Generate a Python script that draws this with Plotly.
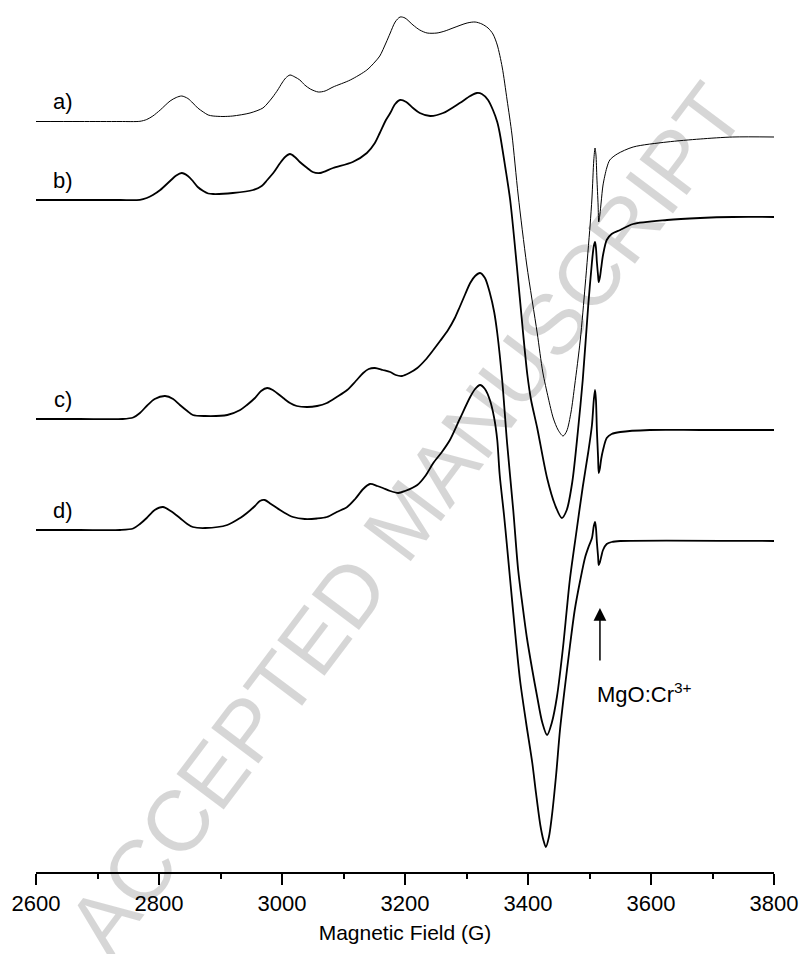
import plotly.graph_objects as go

# Magnetic field (G) and EPR signal (arbitrary units)
field_a = [2600, 2671.5, 2736.6, 2769, 2780, 2790, 2802, 2818, 2828, 2837, 2847, 2855, 2863, 2872, 2880, 2888,
           2904, 2920, 2948, 2969, 2977, 2985, 2993, 3000, 3006, 3013, 3021, 3029, 3037, 3046, 3059, 3070,
           3083, 3111, 3138, 3151, 3159, 3169, 3176, 3184, 3192, 3200, 3213, 3224, 3236, 3252, 3265, 3278,
           3301, 3314, 3325, 3335, 3343, 3350, 3358, 3366, 3374, 3384, 3398, 3415, 3424, 3433, 3441, 3449,
           3457, 3463, 3470, 3476, 3485, 3493, 3501, 3504, 3507, 3509, 3510.5, 3512, 3514, 3515, 3517, 3519,
           3522, 3528, 3533, 3545, 3571, 3626, 3680, 3733, 3800]
sig_a = [0, 0, 0, 0.2, 2, 5.5, 11.5, 20.5, 24, 25.5, 23, 18.5, 13.5, 9.5, 6.5, 5.5,
         5, 5.5, 8.5, 13.5, 18.5, 24.5, 31.5, 38.5, 43.5, 46.5, 44.5, 41.5, 36.5, 32.5, 29.5, 30.5,
         34.5, 41.5, 51.5, 59.5, 65.5, 78.5, 88.5, 99.5, 104.5, 103.5, 96.5, 91.5, 88.5, 88.5, 90.5, 93.5,
         98.5, 99.5, 97.5, 93.5, 87.5, 76.5, 54.5, 21.5, -13.5, -73.5, -143.5, -211.5, -250.5, -276.5, -296.5, -308.5,
         -314.5, -309.5, -290.5, -263.5, -218.5, -163.5, -103.5, -76.5, -38.5, -26.5, -33.5, -56.5, -83.5, -100.5, -92.5, -80.5,
         -63.5, -46.5, -38.5, -32.5, -25.5, -20.5, -17.5, -15.5, -15.5]

field_b = [2600, 2671.5, 2736.6, 2769, 2780, 2790, 2802, 2818, 2828, 2837, 2847, 2855, 2863, 2872, 2880, 2888,
           2920, 2953, 2967, 2976, 2987, 2997, 3005, 3013, 3021, 3029, 3041, 3050, 3062, 3083, 3115, 3138,
           3151, 3159, 3169, 3176, 3184, 3192, 3202, 3213, 3224, 3241, 3262, 3289, 3306, 3317, 3325, 3335,
           3343, 3350, 3354, 3363, 3371, 3382, 3392, 3399, 3405, 3415, 3431, 3444, 3455, 3463, 3472, 3481,
           3489, 3498, 3504, 3507, 3509, 3510.5, 3512, 3514, 3515, 3517, 3519, 3522, 3528, 3536, 3550, 3571,
           3626, 3680, 3733, 3800]
sig_b = [0, 0, 0, 0.2, 2, 5, 10, 19, 24.5, 27, 24, 19, 13, 9, 6.5, 6,
         7, 10, 14, 20, 28, 37, 43, 46, 43, 38, 32, 28, 27, 32, 38, 47,
         57, 67, 80, 87, 96, 100, 98, 92, 87, 84, 87, 97, 104, 107, 106, 100,
         90, 78, 67, 33, 0, -67, -133, -175, -200, -228, -278, -305, -318, -310, -282, -232,
         -180, -105, -62, -46, -42, -48, -62, -76, -82, -77, -68, -55, -40, -34, -30, -24,
         -20, -18, -17, -17]

field_c = [2600, 2671.5, 2741, 2758, 2769, 2780, 2793, 2810, 2823, 2834, 2846, 2855, 2875, 2911, 2932, 2943,
           2956, 2966, 2976, 2985, 3002, 3013, 3024, 3041, 3057, 3073, 3089, 3106, 3120, 3132, 3141, 3151,
           3164, 3176, 3185, 3195, 3207, 3220, 3233, 3246, 3257, 3270, 3281, 3289, 3298, 3306, 3314, 3322,
           3330, 3338, 3345, 3350, 3358, 3366, 3376, 3384, 3391, 3398, 3407, 3415, 3423, 3431, 3439, 3447,
           3457, 3463, 3468, 3478, 3489, 3498, 3504, 3507, 3509, 3510.5, 3512, 3514, 3515, 3517, 3519, 3522,
           3528, 3536, 3550, 3598, 3680, 3800]
sig_c = [0, 0, 0, 1.5, 6, 13, 20, 23, 20, 14, 8, 4, 3, 4, 9, 14,
         21, 28, 31, 29, 21, 16, 13, 12, 13, 16, 22, 29, 38, 46, 50, 51,
         49, 47, 44, 43, 46, 51, 59, 69, 78, 89, 101, 112, 125, 136, 143, 146,
         141, 126, 107, 86, 39, -24, -91, -151, -186, -218, -251, -278, -303, -316, -303, -278,
         -228, -191, -161, -116, -68, -33, -6, 19, 29, 19, -11, -39, -54, -49, -40, -31,
         -19, -15, -13, -11, -11, -11]

field_d = [2600, 2671.5, 2736.6, 2758, 2769, 2780, 2793, 2806.5, 2819, 2834, 2846, 2855, 2875, 2911, 2932, 2943,
           2956, 2964, 2972, 2982, 3002, 3018, 3037, 3057, 3073, 3089, 3106, 3119, 3132, 3143, 3155, 3164,
           3176, 3189, 3200, 3220, 3233, 3246, 3260, 3273, 3289, 3306, 3314, 3322, 3330, 3338, 3345, 3350,
           3354, 3361, 3366, 3371, 3379, 3387, 3397, 3407, 3413, 3420, 3425, 3429, 3434, 3439, 3446, 3452,
           3460, 3468, 3476, 3485, 3493, 3499, 3504, 3507, 3509, 3510.5, 3512, 3514, 3515, 3517, 3519, 3522,
           3528, 3536, 3550, 3800]
sig_d = [0, 0, 0, 1.5, 6, 12, 20, 23, 19, 12, 6, 3, 2, 5, 12, 17,
         24, 29, 30, 26, 18, 13, 11, 11.5, 13, 18, 23, 31, 41, 46, 44, 42,
         39, 37, 39, 45, 54, 67, 78, 90, 111, 133, 141, 145, 141, 130, 112, 90,
         55, 15, -17, -50, -102, -150, -193, -233, -263, -295, -310, -317, -307, -285, -243, -200,
         -157, -117, -80, -50, -27, -16, -8, 4, 8, 2, -12, -27, -35, -32, -27, -20,
         -14, -12, -11, -11]

series_labels = ["a)", "b)", "c)", "d)"]
offsets = [-121.5, -200, -419, -530]
line_widths = [1.0, 1.8, 1.8, 1.8]

x_ticks = [2600, 2800, 3000, 3200, 3400, 3600, 3800]

fig = go.Figure()
fields = [field_a, field_b, field_c, field_d]
sigs = [sig_a, sig_b, sig_c, sig_d]
for f, s, off, lw, name in zip(fields, sigs, offsets, line_widths, series_labels):
    fig.add_trace(go.Scatter(
        x=f, y=[v + off for v in s], mode="lines", name=name,
        line=dict(color="black", width=lw, shape="spline", smoothing=0.8),
        showlegend=False, hoverinfo="skip"))

FONT = "Liberation Sans, Arial, sans-serif"

for name, off in zip(series_labels, offsets):
    fig.add_annotation(x=2644, y=off + 20, text=name, showarrow=False,
                       font=dict(family=FONT, size=22, color="black"),
                       xanchor="center", yanchor="middle")

# Arrow marking the MgO:Cr3+ reference line
fig.add_annotation(x=3517, y=-608, ax=3517, ay=-662, xref="x", yref="y", axref="x", ayref="y",
                   text="", showarrow=True, arrowhead=2, arrowsize=1.7, arrowwidth=1.5, arrowcolor="black")
fig.add_annotation(x=3590, y=-693, text="MgO:Cr<sup>3+</sup>", showarrow=False,
                   font=dict(family=FONT, size=22, color="black"), xanchor="center", yanchor="middle")

# Watermark
fig.add_annotation(xref="paper", yref="paper", x=0.50, y=0.41, text="ACCEPTED MANUSCRIPT",
                   showarrow=False, textangle=-53,
                   font=dict(family=FONT, size=86, color="rgba(0,0,0,0.16)"))

fig.update_layout(
    width=801, height=954,
    margin=dict(l=36, r=27, t=10, b=82),
    paper_bgcolor="white", plot_bgcolor="white",
    xaxis=dict(range=[2600, 3800], tickvals=x_ticks, ticktext=[str(t) for t in x_ticks],
               automargin=False,
               ticks="outside", ticklen=11, tickwidth=1.5, tickcolor="black",
               showline=True, linewidth=1.5, linecolor="black", showgrid=False, zeroline=False,
               minor=dict(dtick=100, tick0=2600, ticks="outside", ticklen=5, tickwidth=1.5, tickcolor="black"),
               tickfont=dict(family=FONT, size=22, color="black"),
               title=dict(text="Magnetic Field (G)", font=dict(family=FONT, size=21, color="black"), standoff=10)),
    yaxis=dict(range=[-872, -10], visible=False, showgrid=False, zeroline=False, automargin=False),
)

fig.write_html("out.html")
